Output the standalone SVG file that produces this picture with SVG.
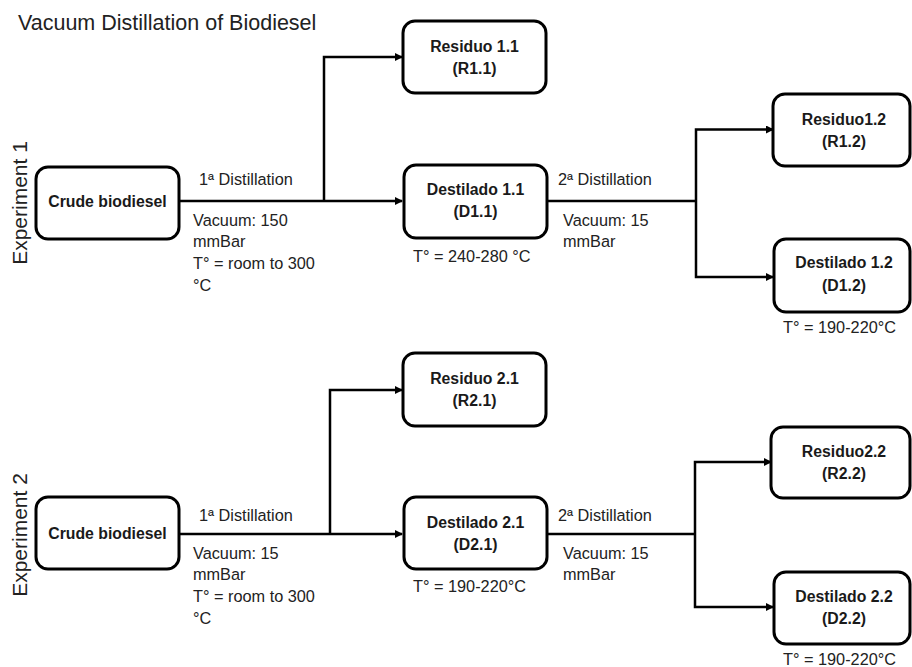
<svg xmlns="http://www.w3.org/2000/svg" width="912" height="667" viewBox="0 0 912 667">
<defs>
<marker id="ah" markerWidth="8" markerHeight="8" refX="7" refY="4" orient="auto" markerUnits="userSpaceOnUse">
<path d="M0,0 L8,4 L0,8 Z" fill="#000"/>
</marker>
<style>
.box{fill:#fff;stroke:#000;stroke-width:3}
.bt{font-family:"Liberation Sans",Arial,sans-serif;font-size:15.8px;font-weight:bold;text-anchor:middle;fill:#1a1a1a}
.lt{font-family:"Liberation Sans",Arial,sans-serif;font-size:16.3px;fill:#222}
.ttl{font-family:"Liberation Sans",Arial,sans-serif;font-size:21.5px;fill:#222}
.ex{font-family:"Liberation Sans",Arial,sans-serif;font-size:21px;fill:#222;text-anchor:middle}
.ln{fill:none;stroke:#000;stroke-width:2.5}
.ar{fill:none;stroke:#000;stroke-width:2.5;marker-end:url(#ah)}
</style>
</defs>
<rect width="912" height="667" fill="#fff"/>
<text class="ttl" x="18" y="30">Vacuum Distillation of Biodiesel</text>
<text class="ex" transform="translate(27,203) rotate(-90)">Experiment 1</text>
<text class="ex" transform="translate(27,535) rotate(-90)">Experiment 2</text>

<g id="connectors">
<path class="ar" d="M179,201 H402"/>
<path class="ar" d="M324,201 V57 H402"/>
<path class="ln" d="M547,201 H696"/>
<path class="ar" d="M696,201 V129.5 H773"/>
<path class="ar" d="M696,201 V277 H773"/>
<path class="ar" d="M179,534 H402"/>
<path class="ar" d="M330,534 V390 H402"/>
<path class="ln" d="M547,534 H695"/>
<path class="ar" d="M695,534 V462 H771"/>
<path class="ar" d="M695,534 V607 H773"/>
</g>

<g id="labels">
<text class="lt" x="199" y="185">1ª Distillation</text>
<text class="lt" x="193" y="226">Vacuum:  150</text>
<text class="lt" x="193" y="247">mmBar</text>
<text class="lt" x="193" y="269">T° = room to 300</text>
<text class="lt" x="193" y="291">°C</text>
<text class="lt" x="413" y="262">T° =  240-280 °C</text>
<text class="lt" x="558" y="185">2ª Distillation</text>
<text class="lt" x="563" y="226">Vacuum:  15</text>
<text class="lt" x="563" y="247">mmBar</text>
<text class="lt" x="783" y="333">T° =  190-220°C</text>

<text class="lt" x="199" y="521">1ª Distillation</text>
<text class="lt" x="193" y="559">Vacuum:  15</text>
<text class="lt" x="193" y="580">mmBar</text>
<text class="lt" x="193" y="602">T° = room to 300</text>
<text class="lt" x="193" y="624">°C</text>
<text class="lt" x="413" y="592">T° =  190-220°C</text>
<text class="lt" x="558" y="521">2ª Distillation</text>
<text class="lt" x="563" y="559">Vacuum:  15</text>
<text class="lt" x="563" y="580">mmBar</text>
<text class="lt" x="783" y="665">T° =  190-220°C</text>
</g>

<g id="crude1"><rect class="box" x="36" y="167" width="143" height="72" rx="12"/><text class="bt" x="107.5" y="207">Crude biodiesel</text></g>
<g id="r11"><rect class="box" x="403" y="21" width="143" height="72" rx="12"/><text class="bt" x="474.5" y="52">Residuo 1.1</text><text class="bt" x="474.5" y="74">(R1.1)</text></g>
<g id="d11"><rect class="box" x="404" y="165" width="143" height="73" rx="12"/><text class="bt" x="475.5" y="195">Destilado 1.1</text><text class="bt" x="475.5" y="217">(D1.1)</text></g>
<g id="r12"><rect class="box" x="773" y="94" width="137" height="72" rx="12"/><text class="bt" x="844" y="125">Residuo1.2</text><text class="bt" x="844" y="147">(R1.2)</text></g>
<g id="d12"><rect class="box" x="774" y="239" width="136" height="73" rx="12"/><text class="bt" x="844" y="268">Destilado 1.2</text><text class="bt" x="844" y="291">(D1.2)</text></g>

<g id="crude2"><rect class="box" x="36" y="497" width="143" height="72" rx="12"/><text class="bt" x="107.5" y="539">Crude biodiesel</text></g>
<g id="r21"><rect class="box" x="403" y="353" width="143" height="73" rx="12"/><text class="bt" x="474.5" y="384">Residuo 2.1</text><text class="bt" x="474.5" y="406">(R2.1)</text></g>
<g id="d21"><rect class="box" x="404" y="497" width="143" height="72" rx="12"/><text class="bt" x="475.5" y="528">Destilado 2.1</text><text class="bt" x="475.5" y="550">(D2.1)</text></g>
<g id="r22"><rect class="box" x="771" y="427" width="139" height="71" rx="12"/><text class="bt" x="844" y="457">Residuo2.2</text><text class="bt" x="844" y="479">(R2.2)</text></g>
<g id="d22"><rect class="box" x="774" y="572" width="136" height="72" rx="12"/><text class="bt" x="844" y="602">Destilado 2.2</text><text class="bt" x="844" y="624">(D2.2)</text></g>
</svg>
